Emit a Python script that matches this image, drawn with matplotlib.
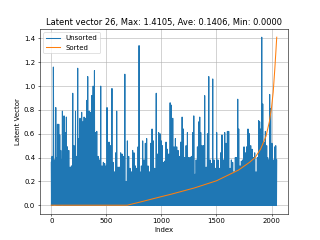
import numpy as np
import matplotlib
matplotlib.use("Agg")
import matplotlib.pyplot as plt

# Unsorted: local peak values (index, value)
peak_idx = [0, 7, 19, 41, 56, 68, 77, 86, 101, 116, 128, 137, 147, 159, 171, 183, 195, 207, 220, 231,
            240, 249, 261, 276, 286, 298, 310, 322, 331, 343, 355, 367, 380, 392, 401, 413, 425, 437, 449, 461,
            473, 485, 497, 506, 524, 536, 551, 561, 573, 585, 594, 606, 618, 630, 642, 655, 668, 679, 691, 703,
            715, 727, 739, 751, 763, 776, 788, 797, 806, 818, 830, 842, 854, 866, 878, 891, 903, 915, 927, 939,
            953, 963, 975, 987, 1000, 1008, 1018, 1030, 1042, 1055, 1067, 1079, 1091, 1103, 1115, 1127, 1139, 1151, 1164, 1176,
            1188, 1200, 1212, 1224, 1236, 1248, 1260, 1272, 1285, 1294, 1306, 1315, 1327, 1339, 1348, 1357, 1369, 1381, 1393, 1406,
            1418, 1430, 1442, 1454, 1466, 1478, 1490, 1502, 1514, 1526, 1538, 1550, 1563, 1575, 1587, 1599, 1611, 1623, 1635, 1647,
            1659, 1671, 1684, 1693, 1702, 1714, 1726, 1738, 1750, 1762, 1774, 1786, 1799, 1811, 1823, 1835, 1847, 1859, 1871, 1883,
            1892, 1901, 1911, 1920, 1932, 1944, 1956, 1965, 1974, 1983, 1992, 2004, 2016, 2029, 2038, 2047]
peak_val = [0.36, 0.41, 1.16, 0.82, 0.68, 0.68, 0.59, 0.46, 0.79, 0.75, 0.61, 0.74, 0.49, 0.46, 0.32, 0.33, 0.94, 0.50, 0.79, 0.41,
            1.15, 0.56, 0.73, 0.78, 0.70, 0.74, 0.73, 0.88, 1.08, 0.79, 0.78, 0.92, 1.00, 1.13, 0.61, 0.62, 0.41, 0.38, 1.00, 0.33,
            0.36, 0.35, 0.33, 0.82, 0.53, 0.50, 0.98, 0.36, 0.28, 0.44, 0.79, 0.32, 0.32, 0.44, 0.43, 0.41, 1.10, 0.20, 0.54, 0.41,
            0.31, 0.28, 0.46, 0.44, 0.33, 0.31, 0.49, 1.34, 0.28, 0.33, 0.54, 0.38, 0.52, 0.56, 0.33, 0.28, 0.52, 0.64, 0.54, 0.31,
            0.94, 0.43, 0.61, 0.60, 0.54, 0.50, 0.36, 0.37, 0.53, 0.47, 0.43, 0.86, 0.84, 0.73, 0.49, 0.56, 0.49, 0.46, 0.41, 0.53,
            0.74, 0.64, 0.40, 0.50, 0.61, 0.40, 0.40, 0.41, 0.61, 0.75, 0.26, 0.38, 0.49, 0.70, 0.74, 0.61, 0.50, 0.50, 0.92, 0.32,
            0.60, 1.08, 0.38, 0.35, 1.06, 0.38, 0.31, 0.61, 0.38, 0.31, 0.44, 0.59, 0.38, 0.61, 0.52, 0.62, 0.62, 0.31, 0.38, 0.36,
            0.28, 0.40, 0.40, 0.89, 0.64, 0.33, 0.37, 0.38, 0.49, 0.44, 0.49, 0.64, 0.60, 0.50, 0.47, 0.40, 0.44, 0.28, 0.40, 0.71,
            0.70, 0.64, 1.4105, 0.85, 0.53, 0.62, 0.50, 0.40, 0.38, 0.93, 0.81, 0.52, 0.38, 0.49, 0.50, 0.38]
# Secondary (mid) values between each pair of peaks: top of the dense blue band
mid_val = [0.30, 0.35, 0.38, 0.40, 0.42, 0.40, 0.36, 0.38, 0.40, 0.42, 0.45, 0.40, 0.38, 0.28, 0.27, 0.30, 0.35, 0.38, 0.33, 0.36,
           0.40, 0.42, 0.45, 0.44, 0.46, 0.45, 0.48, 0.50, 0.48, 0.45, 0.46, 0.50, 0.48, 0.42, 0.40, 0.36, 0.32, 0.34, 0.30, 0.30,
           0.30, 0.30, 0.30, 0.40, 0.42, 0.40, 0.33, 0.27, 0.26, 0.36, 0.30, 0.28, 0.30, 0.36, 0.35, 0.36, 0.19, 0.18, 0.35, 0.28,
           0.25, 0.26, 0.35, 0.30, 0.28, 0.28, 0.38, 0.26, 0.25, 0.30, 0.34, 0.33, 0.40, 0.30, 0.26, 0.26, 0.40, 0.45, 0.29, 0.28,
           0.38, 0.36, 0.45, 0.44, 0.42, 0.33, 0.30, 0.34, 0.40, 0.38, 0.38, 0.50, 0.52, 0.42, 0.40, 0.42, 0.40, 0.36, 0.36, 0.44,
           0.45, 0.36, 0.34, 0.42, 0.36, 0.34, 0.35, 0.36, 0.48, 0.24, 0.24, 0.34, 0.42, 0.48, 0.46, 0.42, 0.40, 0.42, 0.30, 0.28,
           0.42, 0.34, 0.30, 0.32, 0.34, 0.28, 0.28, 0.34, 0.28, 0.29, 0.38, 0.34, 0.35, 0.42, 0.45, 0.48, 0.29, 0.28, 0.32, 0.26,
           0.26, 0.34, 0.36, 0.50, 0.31, 0.30, 0.33, 0.35, 0.38, 0.40, 0.42, 0.50, 0.44, 0.42, 0.36, 0.38, 0.26, 0.26, 0.36, 0.50,
           0.52, 0.50, 0.55, 0.48, 0.45, 0.42, 0.36, 0.34, 0.35, 0.55, 0.44, 0.34, 0.34, 0.42, 0.33]
# the blue reaches the baseline between peaks
trough_val = [0.0] * (len(peak_idx) - 1)

# Sorted curve
sorted_idx = [0, 690, 800, 1000, 1100, 1200, 1300, 1400, 1500, 1600, 1700, 1800, 1850, 1900, 1950, 1980, 2000, 2015, 2030, 2040, 2047]
sorted_val = [0.0, 0.0, 0.025, 0.072, 0.095, 0.12, 0.145, 0.175, 0.205, 0.25, 0.295, 0.36, 0.40, 0.47, 0.58, 0.70, 0.82, 0.95, 1.15, 1.30, 1.4105]

title = "Latent vector 26, Max: 1.4105, Ave: 0.1406, Min: 0.0000"

# interleave: peak, trough, mid, trough, next peak
ux, uy = [], []
for i in range(len(peak_idx)):
    ux.append(peak_idx[i]); uy.append(peak_val[i])
    if i < len(trough_val):
        d = peak_idx[i + 1] - peak_idx[i]
        ux += [peak_idx[i] + d * 0.25, peak_idx[i] + d * 0.5, peak_idx[i] + d * 0.75]
        uy += [trough_val[i], mid_val[i], trough_val[i]]

fig, ax = plt.subplots(figsize=(6.4, 4.8), dpi=50)
ax.plot(ux, uy, label="Unsorted")
ax.plot(sorted_idx, sorted_val, label="Sorted")
ax.set_title(title)
ax.set_xlabel("Index")
ax.set_ylabel("Latent Vector")
ax.grid(True)
ax.legend(loc="upper left")
fig.savefig("out.png", dpi=50)
